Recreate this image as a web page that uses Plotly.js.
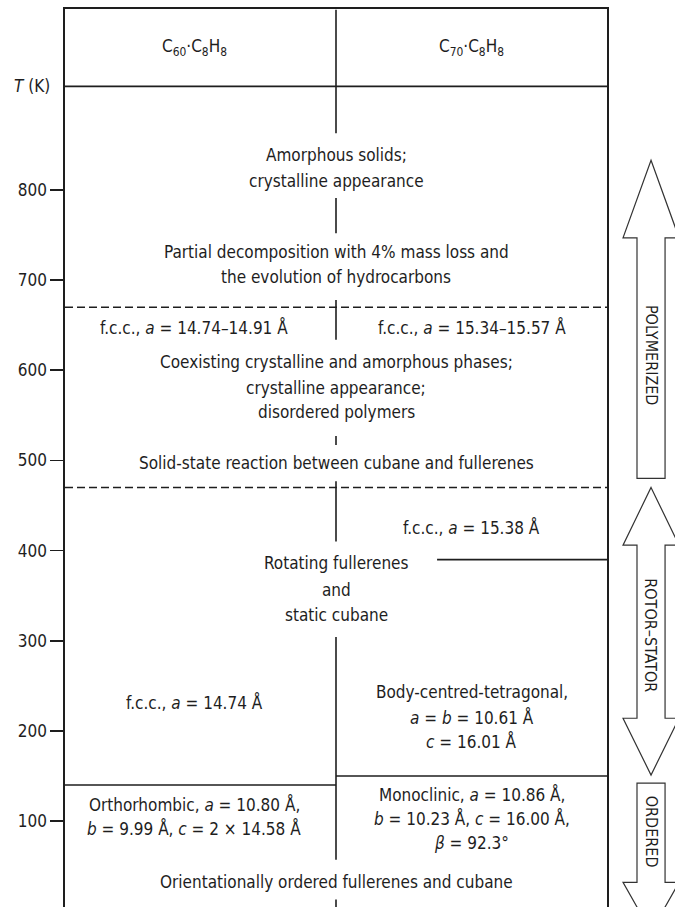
<!DOCTYPE html>
<html>
<head>
<meta charset="utf-8">
<script src="https://cdn.plot.ly/plotly-3.0.1.min.js"></script>
<style>html,body{margin:0;padding:0;background:#fff;}#chart{width:675px;height:907px;}</style>
</head>
<body>
<div id="chart"></div>
<script>
// ---------- data ----------
const tickVals = [100, 200, 300, 400, 500, 600, 700, 800];
const compounds = ['C<sub>60</sub>·C<sub>8</sub>H<sub>8</sub>', 'C<sub>70</sub>·C<sub>8</sub>H<sub>8</sub>'];
const headerT = 915;            // header rule
const tableTop = 1000;          // top of the table
const decompT = 670;            // dashed: decomposition onset
const polyT = 470;              // dashed: solid-state reaction
const c70FccBctT = 390;         // C70 fcc -> bct
const c60OrthoT = 140;          // C60 orthorhombic transition
const c70MonoT = 150;           // C70 monoclinic transition
// vertical divider pieces [from T, to T]
const dividerFrom = [1000, 791, 678, 527, 477, 304, 13];
const dividerTo   = [863, 752, 634, 517, 410, 57, 0];

// labels: text, temperature, column (0 = C60, 1 = C70, 2 = both)
const labelText = [
  'Amorphous solids;', 'crystalline appearance',
  'Partial decomposition with 4% mass loss and', 'the evolution of hydrocarbons',
  'f.c.c., <i>a</i> = 14.74–14.91 Å', 'f.c.c., <i>a</i> = 15.34–15.57 Å',
  'Coexisting crystalline and amorphous phases;', 'crystalline appearance;', 'disordered polymers',
  'Solid-state reaction between cubane and fullerenes',
  'f.c.c., <i>a</i> = 15.38 Å',
  'Rotating fullerenes', 'and', 'static cubane',
  'f.c.c., <i>a</i> = 14.74 Å',
  'Body-centred-tetragonal,', '<i>a</i> = <i>b</i> = 10.61 Å', '<i>c</i> = 16.01 Å',
  'Orthorhombic, <i>a</i> = 10.80 Å,', '<i>b</i> = 9.99 Å, <i>c</i> = 2 × 14.58 Å',
  'Monoclinic, <i>a</i> = 10.86 Å,', '<i>b</i> = 10.23 Å, <i>c</i> = 16.00 Å,', '<i>β</i> = 92.3°',
  'Orientationally ordered fullerenes and cubane'
];
const labelT = [839, 810, 731, 703, 648, 648, 609, 580, 554, 497, 426, 386, 356, 328,
  231, 243, 215, 188, 118, 92, 129, 103, 76, 32];
const labelCol = [2, 2, 2, 2, 0, 1, 2, 2, 2, 2, 1, 2, 2, 2, 0, 1, 1, 1, 0, 0, 1, 1, 1, 2];

// regime arrows
const regimeNames = ['POLYMERIZED', 'ROTOR–STATOR', 'ORDERED'];
const regimeLabelT = [617, 306, 88];
const arrowTop = [833, 470, 142];
const arrowBottom = [480, 151, -23];
const arrowHeadUpBase = [747, 406, null];
const arrowHeadDownBase = [null, 214, 32];

// ---------- layout constants ----------
const FONT = 'DejaVu Sans Condensed, Liberation Sans Narrow, Arial Narrow, sans-serif';
const INK = '#1e1e1e';
const colX = [0.477, 1.5, 1.0];
const yRange = [4.6, 1000.8];
const arrowC = 0.9607, shaftHalf = 0.0230, headHalf = 0.0459;

// ---------- traces ----------
const solidX = [], solidY = [];
function seg(x0, y0, x1, y1) { solidX.push(x0, x1, null); solidY.push(y0, y1, null); }
seg(0, headerT, 2, headerT);
for (let i = 0; i < dividerFrom.length; i++) seg(1, dividerFrom[i], 1, dividerTo[i]);
seg(1.373, c70FccBctT, 2, c70FccBctT);
seg(0, c60OrthoT, 1, c60OrthoT);
seg(1, c70MonoT, 2, c70MonoT);

const traces = [
  {x: solidX, y: solidY, mode: 'lines', line: {color: INK, width: 1.6}, hoverinfo: 'skip', showlegend: false},
  {x: [0, 2, null, 0, 2], y: [decompT, decompT, null, polyT, polyT], mode: 'lines',
   line: {color: INK, width: 1.6, dash: '8px,4px'}, hoverinfo: 'skip', showlegend: false}
];

// ---------- annotations ----------
const annotations = [];
compounds.forEach((c, i) => annotations.push({
  x: colX[i], y: (tableTop + headerT) / 2 + 1, xref: 'x', yref: 'y', text: c, showarrow: false,
  xanchor: 'center', yanchor: 'middle',
  font: {family: FONT, size: 17, color: INK}
}));
annotations.push({x: -0.0549, y: headerT, xref: 'paper', yref: 'y', text: '<i>T</i> (K)', showarrow: false,
  xanchor: 'center', yanchor: 'middle',
  font: {family: FONT, size: 17, color: INK}});
labelText.forEach((t, i) => annotations.push({
  x: colX[labelCol[i]], y: labelT[i], xref: 'x', yref: 'y', text: t, showarrow: false,
  xanchor: 'center', yanchor: 'middle',
  font: {family: FONT, size: 17, color: INK}
}));
regimeNames.forEach((r, i) => annotations.push({
  x: arrowC, y: regimeLabelT[i], xref: 'paper', yref: 'y', text: r, showarrow: false, textangle: 90,
  xanchor: 'center', yanchor: 'middle',
  font: {family: FONT, size: 16, color: INK}
}));

// ---------- arrow shapes ----------
function P(x, y) { return x + ',' + y; }
const shapes = regimeNames.map((r, i) => {
  const c = arrowC, s = shaftHalf, h = headHalf;
  const top = arrowTop[i], bot = arrowBottom[i];
  const up = arrowHeadUpBase[i], dn = arrowHeadDownBase[i];
  let pts = [];
  if (up !== null) {
    pts.push(P(c, top), P(c + h, up), P(c + s, up));
  } else {
    pts.push(P(c - s, top), P(c + s, top));
  }
  if (dn !== null) {
    pts.push(P(c + s, dn), P(c + h, dn), P(c, bot), P(c - h, dn), P(c - s, dn));
  } else {
    pts.push(P(c + s, bot), P(c - s, bot));
  }
  if (up !== null) pts.push(P(c - s, up), P(c - h, up));
  return {type: 'path', xref: 'paper', yref: 'y', path: 'M' + pts.join('L') + 'Z',
    line: {color: '#333', width: 1.2}, fillcolor: '#fff', layer: 'below'};
});

const layout = {
  width: 675, height: 907,
  margin: {l: 65, r: 0, t: 9, b: 0},
  paper_bgcolor: '#fff', plot_bgcolor: '#fff',
  showlegend: false,
  xaxis: {domain: [0, 542 / 610], range: [0, 2], side: 'top', showline: true, linecolor: INK, linewidth: 1.6,
    showgrid: false, zeroline: false, ticks: '', showticklabels: false, fixedrange: true},
  yaxis: {range: yRange, showline: true, mirror: true, linecolor: INK, linewidth: 1.6,
    tickvals: tickVals, ticks: 'outside', ticklen: 13, tickwidth: 1.6, tickcolor: INK,
    tickfont: {family: FONT, size: 17, color: INK}, showgrid: false, zeroline: false, fixedrange: true},
  annotations: annotations,
  shapes: shapes
};

Plotly.newPlot('chart', traces, layout, {staticPlot: true});
</script>
</body>
</html>
